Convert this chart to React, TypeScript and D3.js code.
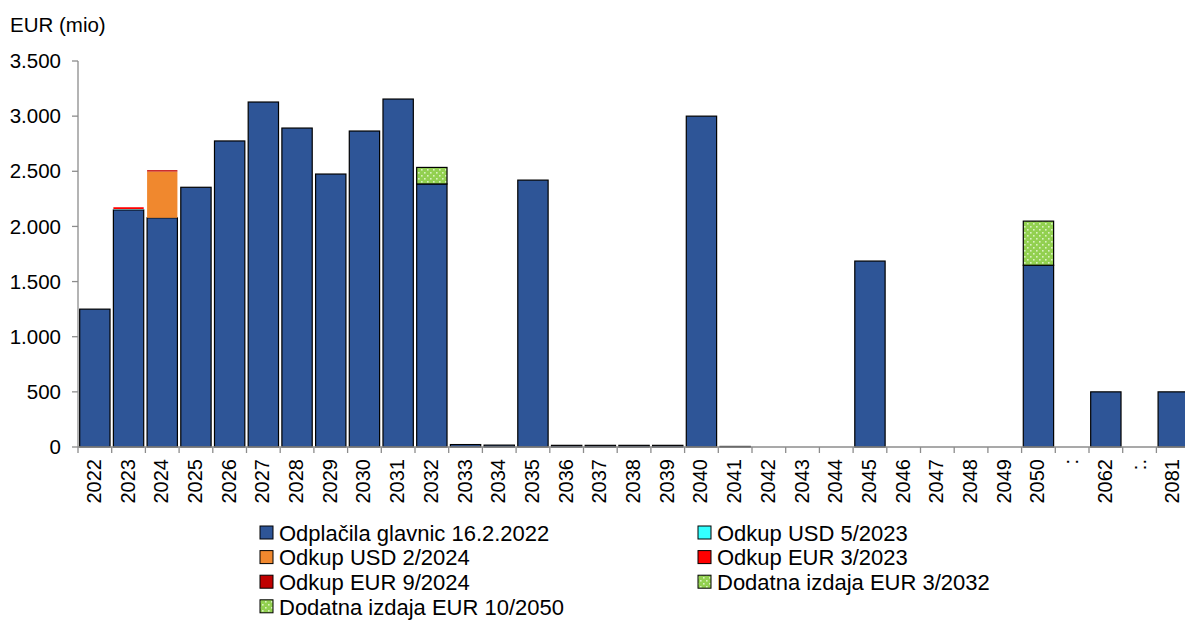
import React from "react";
import * as d3 from "d3";

const categories = ["2022","2023","2024","2025","2026","2027","2028","2029","2030","2031","2032","2033","2034","2035","2036","2037","2038","2039","2040","2041","2042","2043","2044","2045","2046","2047","2048","2049","2050",":","2062",":.","2081"];

const seriesNames = ["Odplačila glavnic 16.2.2022","Odkup USD 5/2023","Odkup USD 2/2024","Odkup EUR 3/2023","Odkup EUR 9/2024","Dodatna izdaja EUR 3/2032","Dodatna izdaja EUR 10/2050"];

const principal = [1250,2150,2078,2355,2775,3128,2892,2475,2865,3155,2385,22,17,2420,15,15,15,15,3000,5,0,0,0,1686,0,0,0,0,1648,0,500,0,500];
const usd2023 = [0,6,0,0,0,0,0,0,0,0,0,0,0,0,0,0,0,0,0,0,0,0,0,0,0,0,0,0,0,0,0,0,0];
const usd2024 = [0,0,420,0,0,0,0,0,0,0,0,0,0,0,0,0,0,0,0,0,0,0,0,0,0,0,0,0,0,0,0,0,0];
const eur2023 = [0,18,0,0,0,0,0,0,0,0,0,0,0,0,0,0,0,0,0,0,0,0,0,0,0,0,0,0,0,0,0,0,0];
const eur2024 = [0,0,12,0,0,0,0,0,0,0,0,0,0,0,0,0,0,0,0,0,0,0,0,0,0,0,0,0,0,0,0,0,0];
const add2032 = [0,0,0,0,0,0,0,0,0,0,150,0,0,0,0,0,0,0,0,0,0,0,0,0,0,0,0,0,0,0,0,0,0];
const add2050 = [0,0,0,0,0,0,0,0,0,0,0,0,0,0,0,0,0,0,0,0,0,0,0,0,0,0,0,0,400,0,0,0,0];

const yTicks = [0,500,1000,1500,2000,2500,3000,3500];
const yTickLabels = ["0","500","1.000","1.500","2.000","2.500","3.000","3.500"];

const seriesValues = [principal, usd2023, usd2024, eur2023, eur2024, add2032, add2050];
const fills = ["#2E5597", "#33FFFF", "#F0882E", "#FF0000", "#C00000", "url(#dots)", "url(#dots)"];
const stackOrder = [0, 1, 2, 3, 4, 5, 6];

const FONT = "Arial, 'Liberation Sans', sans-serif";

export default function App() {
  const width = 1185;
  const height = 623;
  const step = 33.7;
  const x0 = 78;
  const x = d3.scaleBand<string>().domain(categories).range([x0, x0 + step * categories.length]).paddingInner(0.1).paddingOuter(0.05);
  const y = d3.scaleLinear().domain([0, 3500]).range([447, 61]);

  const table = categories.map((c, i) => {
    const row: any = { cat: c };
    seriesValues.forEach((s, k) => (row["s" + k] = s[i]));
    return row;
  });
  const stack = d3.stack<any>().keys(stackOrder.map((k) => "s" + k));
  const layers = stack(table);

  const legendItems = seriesNames.map((n, i) => ({
    name: n,
    fill: fills[i],
    col: i % 2,
    row: Math.floor(i / 2),
  }));

  const axisColor = "#8c8c8c";

  return (
    <svg width={width} height={height} style={{ position: "absolute", left: 0, top: 0, background: "#fff" }} fontFamily={FONT}>
      <defs>
        <pattern id="dots" width="6" height="6" patternUnits="userSpaceOnUse">
          <rect width="6" height="6" fill="#92D050" />
          <rect x="1" y="1" width="1.6" height="1.6" fill="#D9F2C0" />
          <rect x="4" y="4" width="1.6" height="1.6" fill="#D9F2C0" />
        </pattern>
      </defs>
      <rect width={width} height={height} fill="#fff" />
      <text x={10} y={32} fontSize={20.5} fill="#000">EUR (mio)</text>

      <line x1={x0} x2={x0} y1={y(3500)} y2={y(0)} stroke={axisColor} strokeWidth={1.3} />
      {yTicks.map((t, i) => (
        <g key={t}>
          <line x1={x0 - 6} x2={x0} y1={y(t)} y2={y(t)} stroke={axisColor} strokeWidth={1.3} />
          <text x={61} y={y(t)} dy="0.35em" textAnchor="end" fontSize={20.5} fill="#000">{yTickLabels[i]}</text>
        </g>
      ))}

      {layers.map((layer, li) => (
        <g key={li}>
          {layer.map((d, i) => {
            const h = y(d[0]) - y(d[1]);
            if (h <= 0) return null;
            return (
              <rect
                key={i}
                x={x(categories[i])}
                y={y(d[1])}
                width={x.bandwidth()}
                height={h}
                fill={fills[stackOrder[li]]}
                stroke={stackOrder[li] === 0 || stackOrder[li] >= 5 ? "#000" : "none"}
                strokeWidth={1.2}
              />
            );
          })}
        </g>
      ))}

      <line x1={x0} x2={x0 + step * categories.length} y1={y(0)} y2={y(0)} stroke={axisColor} strokeWidth={1.3} />
      {d3.range(categories.length + 1).map((k) => (
        <line key={k} x1={x0 + k * step} x2={x0 + k * step} y1={y(0)} y2={y(0) + 6} stroke={axisColor} strokeWidth={1.3} />
      ))}
      {categories.map((c) => {
        const cx = (x(c) as number) + x.bandwidth() / 2;
        return (
          <text key={c} transform={`translate(${cx + 6},${459}) rotate(-90)`} textAnchor="end" fontSize={20} fill="#000">{c}</text>
        );
      })}

      {legendItems.map((it, i) => {
        const lx = it.col === 0 ? 260 : 698;
        const ly = 533 + it.row * 24.6;
        return (
          <g key={i}>
            <rect x={lx} y={ly - 7} width={13} height={13} fill={it.fill} stroke="#000" strokeWidth={1} />
            <text x={lx + 19} y={ly} dy="0.35em" fontSize={22} fill="#000">{it.name}</text>
          </g>
        );
      })}
    </svg>
  );
}
